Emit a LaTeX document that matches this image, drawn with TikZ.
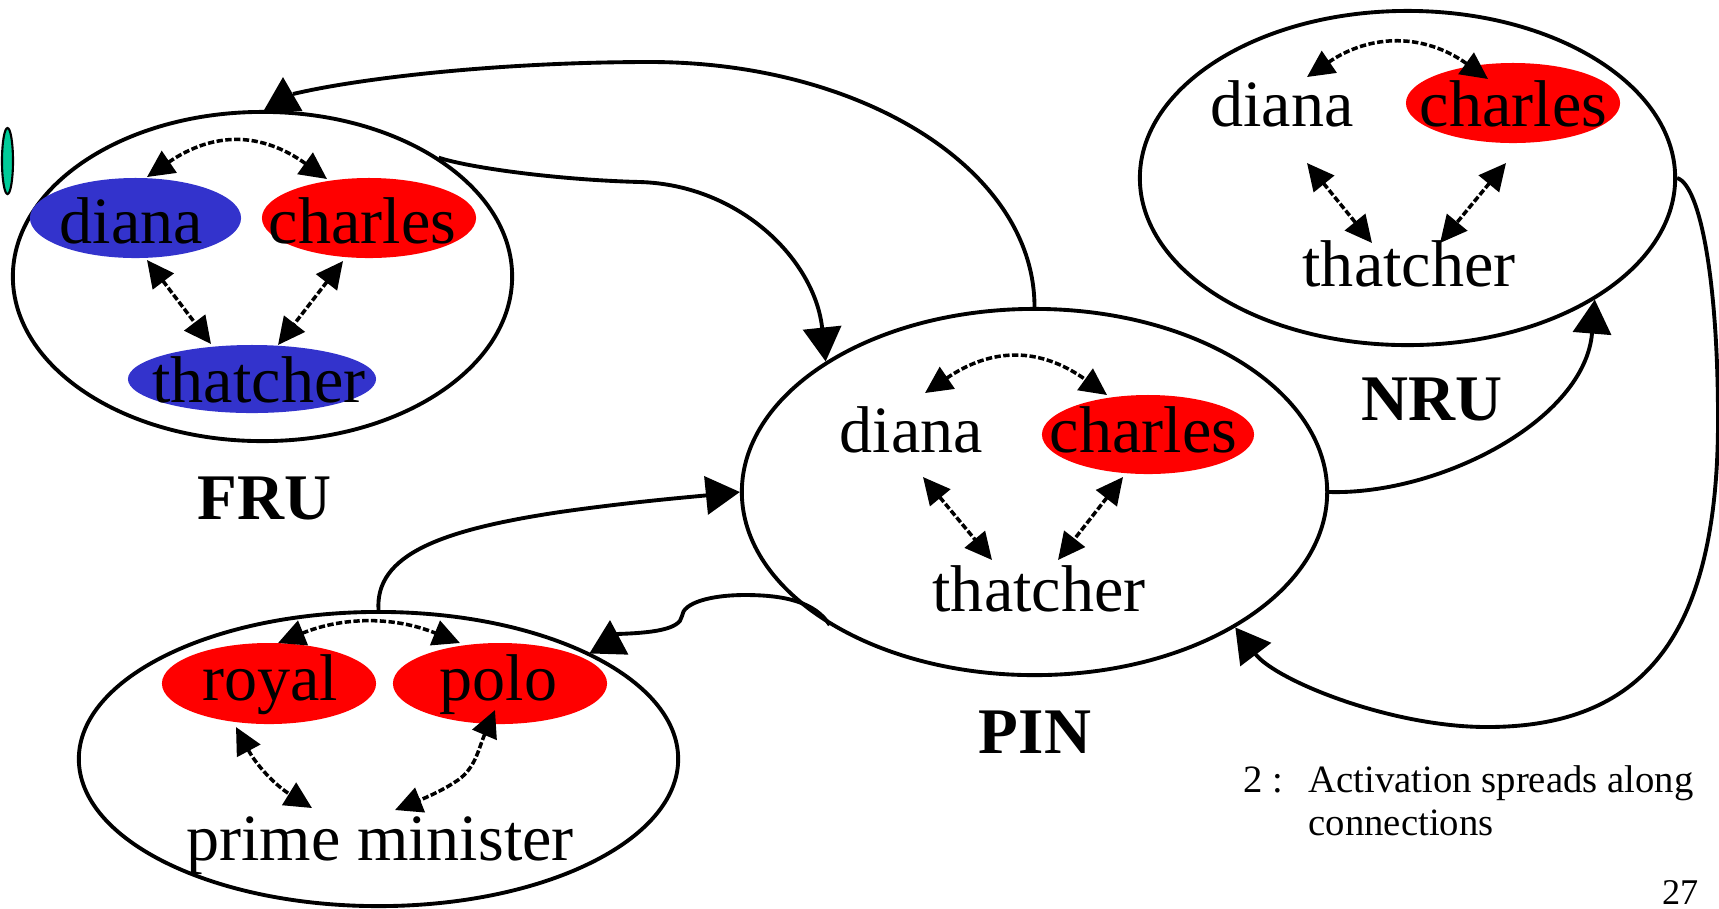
\documentclass[tikz,border=0pt]{standalone}
\usepackage{fontspec}
\setmainfont{Liberation Serif}
\usetikzlibrary{arrows.meta,shapes.geometric}
\definecolor{unitblue}{RGB}{51,51,204}
\definecolor{unitred}{RGB}{255,0,0}
\definecolor{marker}{RGB}{0,204,153}

\begin{document}
\begin{tikzpicture}[x=0.01cm,y=-0.01cm,
  ring/.style={draw, line width=1.1pt, ellipse, inner sep=0pt},
  blob/.style={ellipse, inner sep=0pt, draw=none},
  word/.style={anchor=base, inner sep=0pt, font=\fontsize{18.8}{22}\selectfont},
  tag/.style={anchor=base, inner sep=0pt, font=\fontsize{18.5}{22}\selectfont\bfseries},
  note/.style={anchor=base west, inner sep=0pt, font=\fontsize{11}{13}\selectfont},
  link/.style={line width=1.1pt, -{Triangle[length=3.4mm,width=3.8mm]}},
  dlink/.style={line width=1pt, dash pattern=on 1.8pt off 0.7pt,
    {Triangle[length=2.7mm,width=2.6mm]}-{Triangle[length=2.7mm,width=2.6mm]}},
]
\useasboundingbox (0,0) rectangle (1719,908);

% pools
\node[ring, minimum width=4.99cm, minimum height=3.29cm] (fru) at (262.5,276.5) {};
\node[ring, minimum width=5.85cm, minimum height=3.66cm] (pin) at (1034.5,492) {};
\node[ring, minimum width=5.35cm, minimum height=3.34cm] (nru) at (1407.5,178) {};
\node[ring, minimum width=5.99cm, minimum height=2.94cm] (pmu) at (378.5,759) {};

% small marker at the left edge
\node[ellipse, draw, line width=0.6pt, fill=marker, inner sep=0pt,
      minimum width=0.11cm, minimum height=0.66cm] (mark) at (7.5,161) {};

% active units
\node[blob, fill=unitblue, minimum width=2.11cm, minimum height=0.80cm] (fru-d-bg) at (135.5,218) {};
\node[blob, fill=unitred,  minimum width=2.14cm, minimum height=0.80cm] (fru-c-bg) at (369,218) {};
\node[blob, fill=unitblue, minimum width=2.48cm, minimum height=0.68cm] (fru-t-bg) at (252,379) {};
\node[blob, fill=unitred,  minimum width=2.12cm, minimum height=0.79cm] (pin-c-bg) at (1148,434.5) {};
\node[blob, fill=unitred,  minimum width=2.14cm, minimum height=0.80cm] (nru-c-bg) at (1513,103) {};
\node[blob, fill=unitred,  minimum width=2.14cm, minimum height=0.81cm] (pmu-r-bg) at (269,683.5) {};
\node[blob, fill=unitred,  minimum width=2.14cm, minimum height=0.81cm] (pmu-p-bg) at (500,683.5) {};

% unit names
\node[word] (fru-d) at (131.5,243) {diana};
\node[word] (fru-c) at (362.5,243) {charles};
\node[word] (fru-t) at (259,402) {thatcher};
\node[word] (pin-d) at (911.5,452) {diana};
\node[word] (pin-c) at (1143.5,452) {charles};
\node[word] (pin-t) at (1039,611) {thatcher};
\node[word] (nru-d) at (1282,126) {diana};
\node[word] (nru-c) at (1513.5,126) {charles};
\node[word] (nru-t) at (1409,286) {thatcher};
\node[word] (pmu-r) at (270,700) {royal};
\node[word] (pmu-p) at (498.5,700) {polo};
\node[word] (pmu-m) at (380,860) {prime minister};

% pool labels
\node[tag] (fru-l) at (264.5,519) {FRU};
\node[tag] (pin-l) at (1035,753) {PIN};
\node[tag] (nru-l) at (1432,420) {NRU};

% notes
\node[note] (note-n) at (1243,792) {2 :};
\node[note] (note-1) at (1308,792) {Activation spreads along};
\node[note] (note-2) at (1308,835) {connections};
\node[anchor=base east, inner sep=0pt, font=\fontsize{10.3}{12}\selectfont] (pageno) at (1699,904) {27};

% end points of the links inside the pools
\coordinate (fa1) at (147,177);  \coordinate (fa2) at (327,179);
\coordinate (fd1) at (147,260);  \coordinate (ft1) at (211,344);
\coordinate (fc1) at (343,261);  \coordinate (ft2) at (278,345);
\coordinate (pa1) at (925,393);  \coordinate (pa2) at (1107,395);
\coordinate (pd1) at (923,477);  \coordinate (pt1) at (992,560);
\coordinate (pc1) at (1123,477); \coordinate (pt2) at (1058,560);
\coordinate (na1) at (1307,77);  \coordinate (na2) at (1488,79);
\coordinate (nd1) at (1307,163); \coordinate (nt1) at (1372,243);
\coordinate (nc1) at (1506,163); \coordinate (nt2) at (1440,243);
\coordinate (ma1) at (278,643);  \coordinate (ma2) at (460,643);
\coordinate (mr1) at (236,727);  \coordinate (mm1) at (312,808);
\coordinate (mp1) at (495,710);  \coordinate (mm2) at (395,810);

% links inside the pools
\draw[dlink] (fa1) to[bend left=35, looseness=1.15] (fa2);
\draw[dlink] (fd1) -- (ft1);
\draw[dlink] (fc1) -- (ft2);
\draw[dlink] (pa1) to[bend left=35, looseness=1.15] (pa2);
\draw[dlink] (pd1) -- (pt1);
\draw[dlink] (pc1) -- (pt2);
\draw[dlink] (na1) to[bend left=35, looseness=1.1] (na2);
\draw[dlink] (nd1) -- (nt1);
\draw[dlink] (nc1) -- (nt2);
\draw[dlink] (ma1) to[bend left=22] (ma2);
\draw[dlink] (mr1) to[bend right=15] (mm1);
\draw[dlink] (mp1) .. controls (478,750) and (475,770) .. (455,782)
                   .. controls (440,792) and (420,800) .. (mm2);

% tips that sit on top of a pool
\coordinate (fru-tip) at (283,77);
\coordinate (pmu-tip) at (610,620);

% links between the pools
\draw[link] (pin.north) .. controls (1034.5,169) and (861,62) .. (650,62)
            .. controls (500,62) and (360,78) .. (293,94)
            (283,112) -- (fru-tip);
\draw[link] (fru.34) .. controls (470,168) and (560,180) .. (640,182)
            .. controls (740,185) and (815,260) .. (pin.148);
\draw[link] (pmu.north) .. controls (375,555) and (440,530) .. (560,512)
            .. controls (630,502) and (690,497) .. (pin.west);
\draw[link] (pin.213) .. controls (815,602) and (785,595) .. (745,595)
            .. controls (710,595) and (683,603) .. (682,616)
            .. controls (680,630) and (650,633) .. (616,634)
            (609,652) -- (pmu-tip);
\draw[link] (pin.east) .. controls (1440,495) and (1585,420) .. (nru.327);
\draw[link] (nru.east) .. controls (1700,185) and (1718,280) .. (1718,420)
            .. controls (1718,640) and (1640,727) .. (1487,727)
            .. controls (1390,727) and (1275,680) .. (pin.326);
\end{tikzpicture}
\end{document}
